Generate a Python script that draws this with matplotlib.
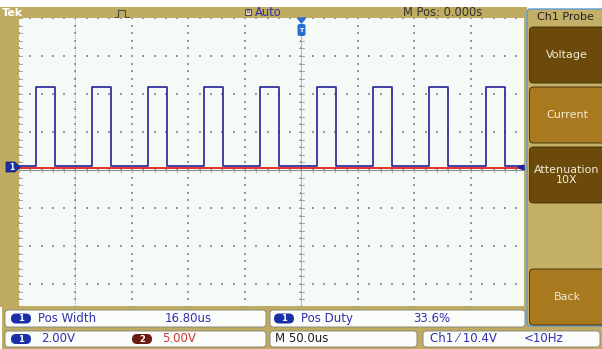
import matplotlib
matplotlib.use("Agg")
import matplotlib.pyplot as plt
import numpy as np
from matplotlib.patches import Rectangle, FancyBboxPatch, Polygon

# ── scope settings / readings ─────────────────────────────────────
US_PER_DIV = 50.0          # M 50.0us
CH1_V_PER_DIV = 2.00
CH2_V_PER_DIV = 5.00

# ch1 pulse train (rising edge times, us)
RISE_US = [-235.0, -185.5, -136.0, -86.3, -36.7, 13.7, 63.3, 112.8, 163.3]
WIDTH_US = 16.8
CH1_LOW_V = 0.21
CH1_HIGH_V = 4.37
CH2_LEVEL_V = 0.30

MENU_TITLE = "Ch1 Probe"
MENU_BUTTONS = ["Voltage", "Current", "Attenuation\n10X", "", "Back"]
MEAS_ROW = [("Pos Width", "16.80us"), ("Pos Duty", "33.6%")]

GOLD = "#bfab62"
SCREEN_BG = "#f5faf6"
BLUE_TXT = "#2f2fb0"
CH1_COL = "#23239a"
CH2_COL = "#e0231e"
GRID_COL = "#959a95"

W, H = 602, 349
fig = plt.figure(figsize=(W / 100, H / 100), dpi=100)
fig.patch.set_facecolor("white")

# full-figure axes for the frame, menus and readouts (pixel coords)
ui = fig.add_axes([0, 0, 1, 1], zorder=0)
ui.set_xlim(0, W)
ui.set_ylim(H, 0)
ui.axis("off")

# gold frame
ui.add_patch(Rectangle((0, 7), 527, 300, color=GOLD, lw=0))
ui.add_patch(Rectangle((2, 306), 600, 43, color=GOLD, lw=0))

# header texts
ui.text(2, 13.5, "Tek", color="white", fontsize=8, fontweight="bold", va="center")
ui.plot([115, 118, 118, 125, 125, 129], [17, 17, 10, 10, 17, 17], color="#4a4a4a", lw=0.8)
ui.add_patch(Rectangle((245, 8.5), 6, 6.5, facecolor="#d9d0ae", edgecolor="#303070", lw=0.6))
ui.text(248, 11.8, "B", color="#303070", fontsize=3.5, ha="center", va="center")
ui.text(255, 13, "Auto", color=BLUE_TXT, fontsize=8.3, va="center")
ui.text(403, 13, "M Pos: 0.000s", color="#333333", fontsize=8.3, va="center")

# menu panel
ui.add_patch(FancyBboxPatch((527, 9), 80, 317, boxstyle="round,pad=0,rounding_size=3",
                            facecolor="#c5b068", edgecolor="#5b9ad6", lw=1.0))
ui.text(565, 17.5, MENU_TITLE, color="#222222", fontsize=8, ha="center", va="center")
btn_y = [27, 87, 147, 208, 269]
btn_fc = ["#6b4a0b", "#a8791f", "#6b4a0b", None, "#a8791f"]
for label, y0, fc in zip(MENU_BUTTONS, btn_y, btn_fc):
    if fc is None:
        continue
    ui.add_patch(FancyBboxPatch((529.5, y0), 76, 56, boxstyle="round,pad=0,rounding_size=4",
                                facecolor=fc, edgecolor="#3a2a05", lw=0.6))
    ui.text(567, y0 + 28, label, color="#f3ecd6", fontsize=8, ha="center", va="center",
            linespacing=1.0)


def badge(x, y, num, fc):
    ui.add_patch(FancyBboxPatch((x, y - 5), 20, 10, boxstyle="round,pad=0,rounding_size=5",
                                facecolor=fc, edgecolor="none"))
    ui.text(x + 10, y, num, color="white", fontsize=6, fontweight="bold",
            ha="center", va="center")


def box(x0, x1, y0, y1):
    ui.add_patch(FancyBboxPatch((x0, y0), x1 - x0, y1 - y0,
                                boxstyle="round,pad=0,rounding_size=3",
                                facecolor="#fbfdfb", edgecolor="#8a8a7a", lw=0.7))


# measurement row
box(5, 266, 310, 327)
box(270, 525, 310, 327)
for (name, val), x0, xv in zip(MEAS_ROW, [11, 274], [165, 413]):
    badge(x0, 318.5, "1", "#1a2fa8")
    ui.text(x0 + 27, 318.5, name, color=BLUE_TXT, fontsize=8.5, va="center")
    ui.text(xv, 318.5, val, color=BLUE_TXT, fontsize=8.5, va="center")

# status row
box(5, 266, 331, 347)
box(270, 417, 331, 347)
box(423, 600, 331, 347)
badge(11, 339, "1", "#1a2fa8")
ui.text(41, 339, f"{CH1_V_PER_DIV:.2f}V", color=BLUE_TXT, fontsize=8.5, va="center")
badge(132, 339, "2", "#6b1b12")
ui.text(162, 339, f"{CH2_V_PER_DIV:.2f}V", color="#c43a33", fontsize=8.5, va="center")
ui.text(275, 339, f"M {US_PER_DIV:.1f}us", color="#222222", fontsize=8.5, va="center")
ui.text(430, 339, "Ch1 \u2044 10.4V", color=BLUE_TXT, fontsize=8.5, va="center")
ui.text(524, 339, "<10Hz", color=BLUE_TXT, fontsize=8.5, va="center")

# ── scope screen ─────────────────────────────────────────────────
# graticule: 10 x 8 div, 56.5 px x 38 px per div, centre at (301.5, 170)
x_left, x_right, y_top, y_bot = 19, 524, 18, 306
ax = fig.add_axes([x_left / W, 1 - y_bot / H, (x_right - x_left) / W, (y_bot - y_top) / H],
                  zorder=1)
px_x = US_PER_DIV / 56.5
px_y = CH1_V_PER_DIV / 38.0
ax.set_xlim(-250, -250 + (x_right - x_left) * px_x)
ax.set_ylim(-(y_bot - 170) * px_y, (170 - y_top) * px_y)
ax.set_facecolor(SCREEN_BG)
for s in ax.spines.values():
    s.set_visible(False)
ax.set_xticks([])
ax.set_yticks([])

xs_major = np.arange(-250, 251, US_PER_DIV)
ys_major = np.arange(-8, 8.01, CH1_V_PER_DIV)
xs_minor = np.arange(-250, 251, US_PER_DIV / 5)
ys_minor = np.arange(-8, 8.01, CH1_V_PER_DIV / 5)
gx, gy = np.meshgrid(xs_major, ys_minor)
ax.scatter(gx.ravel(), gy.ravel(), s=0.9, color=GRID_COL, marker="s", lw=0)
gx, gy = np.meshgrid(xs_minor, ys_major)
ax.scatter(gx.ravel(), gy.ravel(), s=0.9, color=GRID_COL, marker="s", lw=0)
ax.axvline(-200, color=GRID_COL, lw=0.7, ls=(0, (1, 1.5)))
# centre crosshair with fine ticks
ax.axvline(0, color="#b5b8b5", lw=0.8)
ax.axhline(0, color="#8f8f8f", lw=0.8)
for yv in ys_minor:
    ax.plot([-2.5, 2.5], [yv, yv], color=GRID_COL, lw=0.6)
for xv in xs_minor:
    ax.plot([xv, xv], [-0.12, 0.12], color=GRID_COL, lw=0.6)
# edge ticks
for yv in ys_minor:
    ax.plot([-250, -247], [yv, yv], color=GRID_COL, lw=0.6)

# traces
t_start, t_end = -250, 250
ch2_t = [t_start, t_end]
ch2_v = [CH2_LEVEL_V / CH2_V_PER_DIV * CH1_V_PER_DIV] * 2
ax.plot(ch2_t, ch2_v, color=CH2_COL, lw=1.3, zorder=3)

t_pts, v_pts = [t_start], [CH1_LOW_V]
for r in RISE_US:
    t_pts += [r, r, r + WIDTH_US, r + WIDTH_US]
    v_pts += [CH1_LOW_V, CH1_HIGH_V, CH1_HIGH_V, CH1_LOW_V]
t_pts.append(t_end)
v_pts.append(CH1_LOW_V)
ax.plot(t_pts, v_pts, color=CH1_COL, lw=1.2, zorder=4)

# overlay markers (pixel coords)
top = fig.add_axes([0, 0, 1, 1], zorder=2)
top.set_xlim(0, W)
top.set_ylim(H, 0)
top.axis("off")
top.patch.set_alpha(0)
# ch1 ground marker
top.add_patch(Polygon([[6, 162], [15, 162], [20, 167], [15, 172], [6, 172]],
                      closed=True, facecolor="#1a2fa8", edgecolor="#0d1a70", lw=0.5))
top.text(12, 167, "1", color="white", fontsize=5.5, fontweight="bold", ha="center", va="center")
# trigger position marker
top.add_patch(Polygon([[297.5, 18], [305.5, 18], [301.5, 23]], closed=True, color="#2a6fd0"))
top.add_patch(FancyBboxPatch((297.5, 24), 8, 12, boxstyle="round,pad=0,rounding_size=2",
                             facecolor="#2a6fd0", edgecolor="none"))
top.text(301.5, 30, "T", color="white", fontsize=4.5, fontweight="bold", ha="center", va="center")
# trigger level arrow at right edge
top.add_patch(Polygon([[524, 165], [518, 167.5], [524, 170]], closed=True, color=CH1_COL))

fig.savefig("out.png", dpi=100)
